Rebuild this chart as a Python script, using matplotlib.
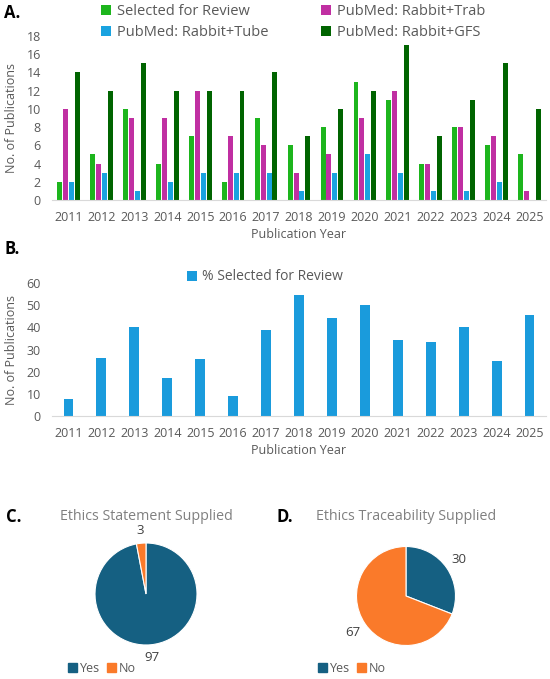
import numpy as np
import matplotlib
matplotlib.use('Agg')
import matplotlib.pyplot as plt
from matplotlib.patches import Patch

plt.rcParams['font.family'] = ['Open Sans', 'DejaVu Sans']

years = [str(y) for y in range(2011, 2026)]
selected = [2, 5, 10, 4, 7, 2, 9, 6, 8, 13, 11, 4, 8, 6, 5]
trab = [10, 4, 9, 9, 12, 7, 6, 3, 5, 9, 12, 4, 8, 7, 1]
tube = [2, 3, 1, 2, 3, 3, 3, 1, 3, 5, 3, 1, 1, 2, 0]
gfs = [14, 12, 15, 12, 12, 12, 14, 7, 10, 12, 17, 7, 11, 15, 10]
pct_selected = [7.5, 26, 40, 17, 25.7, 9, 39, 54.5, 44.4, 50, 34.4, 33.3, 40, 25, 45.5]

ethics_labels = ['Yes', 'No']
ethics_statement = [97, 3]
ethics_trace = [30, 67]

W, H = 550, 679
GRAY = '#595959'
c_sel, c_trab, c_tube, c_gfs = '#1DB51D', '#C02FA2', '#1AA3E0', '#006400'
c_pct = '#1A9BDC'
c_yes, c_no = '#156082', '#FA7A2A'


def fx(x):
    return x / W


def fy(y):
    return 1 - y / H


def style_bar_axes(ax, ymax, step):
    ax.set_xlim(-0.5, len(years) - 0.5)
    ax.set_ylim(0, ymax)
    ax.set_yticks(np.arange(0, ymax + 1, step))
    ax.set_xticks(np.arange(len(years)))
    ax.set_xticklabels(years)
    for s in ['top', 'right', 'left']:
        ax.spines[s].set_visible(False)
    ax.spines['bottom'].set_color('#D9D9D9')
    ax.tick_params(length=0, colors=GRAY, labelsize=9, pad=8)
    ax.set_xlabel('Publication Year', color=GRAY, fontsize=9, labelpad=3)
    ax.set_ylabel('No. of Publications', color=GRAY, fontsize=9, labelpad=6)


fig = plt.figure(figsize=(W / 100, H / 100), dpi=100)

# A
axA = fig.add_axes([fx(52), fy(200), fx(546) - fx(52), fy(36) - fy(200)])
x = np.arange(len(years))
w = 0.15
sp = 0.18
series = [(selected, c_sel, 'Selected for Review'),
          (trab, c_trab, 'PubMed: Rabbit+Trab'),
          (tube, c_tube, 'PubMed: Rabbit+Tube'),
          (gfs, c_gfs, 'PubMed: Rabbit+GFS')]
bars = {}
for i, (vals, col, lab) in enumerate(series):
    bars[lab] = axA.bar(x + (i - 1.5) * sp, vals, w, color=col, label=lab)
style_bar_axes(axA, 18, 2)
order = ['Selected for Review', 'PubMed: Rabbit+Tube', 'PubMed: Rabbit+Trab', 'PubMed: Rabbit+GFS']
fig.legend([bars[k] for k in order], order, ncol=2, loc='center',
           bbox_to_anchor=(fx(293), fy(22)), frameon=False, fontsize=10.5,
           labelcolor=GRAY, handlelength=0.7, handleheight=0.7,
           handletextpad=0.4, columnspacing=3.6, labelspacing=0.45)

# B
axB = fig.add_axes([fx(52), fy(416), fx(546) - fx(52), fy(283) - fy(416)])
pb = axB.bar(x, pct_selected, 0.3, color=c_pct, label='% Selected for Review')
style_bar_axes(axB, 60, 10)
fig.legend([pb], ['% Selected for Review'], loc='center',
           bbox_to_anchor=(fx(265), fy(277)), frameon=False, fontsize=10,
           labelcolor=GRAY, handlelength=0.7, handleheight=0.7,
           handletextpad=0.4)

# panel letters
for lab, px, py in [('A.', 4, 13), ('B.', 4, 249), ('C.', 6, 517), ('D.', 276, 517)]:
    fig.text(fx(px), fy(py), lab, fontsize=12, fontweight='bold', va='center', ha='left')


def draw_pie(cx, cy, r, vals, ld, title, legx):
    ax = fig.add_axes([fx(cx - r), fy(cy + r), fx(2 * r), fy(cy - r) - fy(cy + r)])
    wedges, texts = ax.pie(vals, labels=[str(v) for v in vals], colors=[c_yes, c_no],
                           startangle=90, counterclock=False, labeldistance=ld,
                           wedgeprops=dict(edgecolor='white', linewidth=0.8),
                           textprops=dict(fontsize=9.5, color='#404040'))
    for t in texts:
        t.set_ha('center')
        t.set_va('center')
    ax.set_xlim(-1, 1)
    ax.set_ylim(-1, 1)
    ax.set_aspect('equal')
    fig.text(fx(cx), fy(517), title, fontsize=10.3, color='#808080', ha='center', va='center')
    handles = [Patch(color=c_yes), Patch(color=c_no)]
    fig.legend(handles, ethics_labels, ncol=2, loc='center',
               bbox_to_anchor=(fx(legx), fy(668)), frameon=False, fontsize=9,
               labelcolor=GRAY, handlelength=0.7, handleheight=0.7,
               handletextpad=0.25, columnspacing=0.6)


draw_pie(146, 594, 51, ethics_statement, 1.25, 'Ethics Statement Supplied', 102)
draw_pie(406, 596, 49.5, ethics_trace, 1.3, 'Ethics Traceability Supplied', 352)

fig.savefig('out.png', dpi=100)
